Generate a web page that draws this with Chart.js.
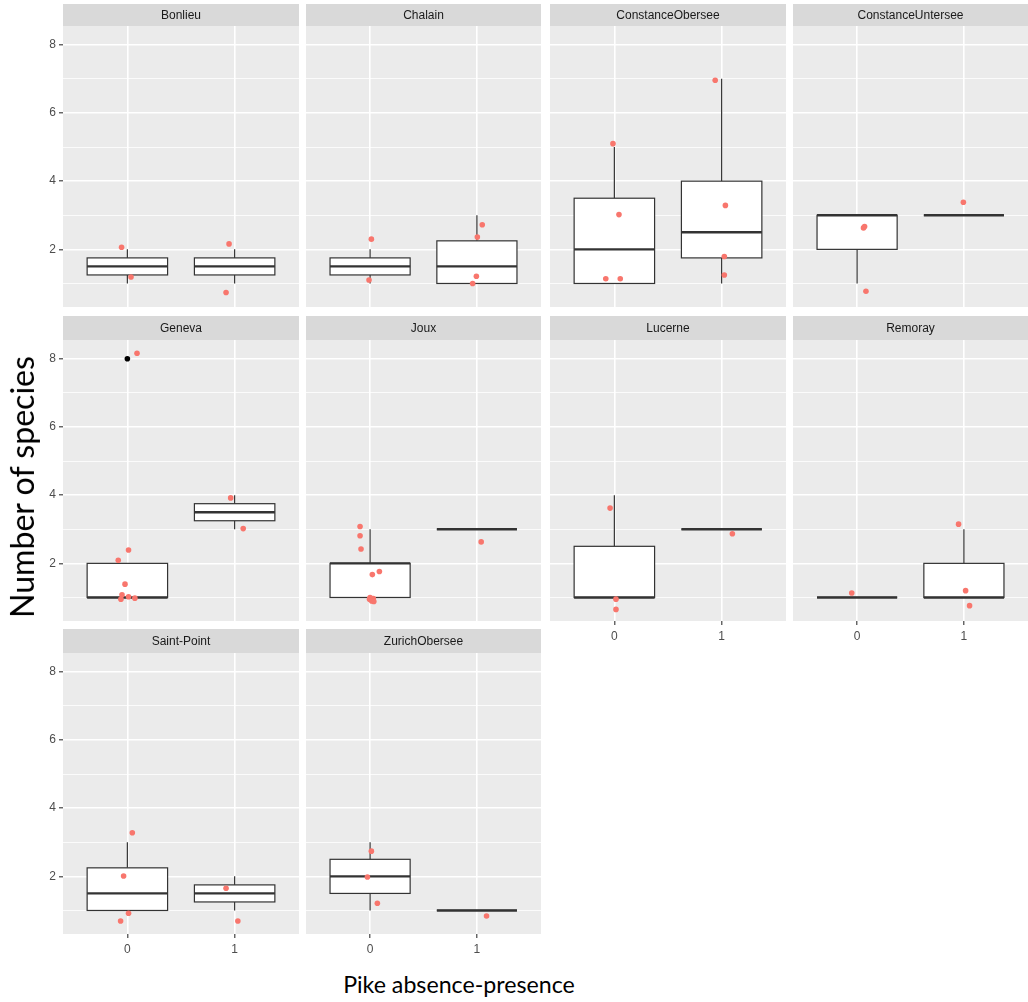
<!DOCTYPE html>
<html>
<head>
<meta charset="utf-8">
<script src="https://cdn.jsdelivr.net/npm/chart.js@4.4.1/dist/chart.umd.min.js"></script>
<style>
  html, body { margin: 0; padding: 0; background: #ffffff; }
  #fig { position: relative; width: 1028px; height: 1002px; overflow: hidden; background: #ffffff; }
  .panel { position: absolute; display: block; }
  .axis-title { position: absolute; font-family: Lato, "Open Sans", sans-serif; color: #000000;
                white-space: nowrap; line-height: 1; }
</style>
</head>
<body>
<div id="fig"></div>
<script>
// ---- data: species counts per lake, split by pike absence (0) / presence (1) ----
const lakes = ['Bonlieu', 'Chalain', 'ConstanceObersee', 'ConstanceUntersee', 'Geneva',
               'Joux', 'Lucerne', 'Remoray', 'Saint-Point', 'ZurichObersee'];
const pikeLevels = [0, 1];

// box statistics [lower whisker, Q1, median, Q3, upper whisker]
const boxAbsent = [
  [1, 1.25, 1.5, 1.75, 2], [1, 1.25, 1.5, 1.75, 2], [1, 1, 2, 3.5, 5], [1, 2, 3, 3, 3], [1, 1, 1, 2, 2],
  [1, 1, 2, 2, 3], [1, 1, 1, 2.5, 4], [1, 1, 1, 1, 1], [1, 1, 1.5, 2.25, 3], [1, 1.5, 2, 2.5, 3]
];
const boxPresent = [
  [1, 1.25, 1.5, 1.75, 2], [1, 1, 1.5, 2.25, 3], [1, 1.75, 2.5, 4, 7], [3, 3, 3, 3, 3], [3, 3.25, 3.5, 3.75, 4],
  [3, 3, 3, 3, 3], [3, 3, 3, 3, 3], [1, 1, 1, 2, 3], [1, 1.25, 1.5, 1.75, 2], [1, 1, 1, 1, 1]
];
// outlying values beyond the whiskers
const outlierAbsent = [[], [], [], [], [8], [], [], [], [], []];
const outlierPresent = [[], [], [], [], [], [], [], [], [], []];

// jittered observations: [horizontal jitter, jittered count]
const pointsAbsent = [
  [[-0.054, 2.06], [0.034, 1.19]],
  [[0.012, 2.30], [-0.01, 1.10]],
  [[-0.013, 5.10], [0.043, 3.02], [-0.08, 1.14], [0.055, 1.14]],
  [[0.06, 2.63], [0.07, 2.67], [0.083, 0.77]],
  [[0.09, 8.16], [0.011, 2.39], [-0.085, 2.09], [-0.022, 1.39], [-0.05, 1.08], [-0.06, 0.95], [0.011, 1.02], [0.07, 0.98]],
  [[-0.094, 3.08], [-0.094, 2.81], [-0.085, 2.42], [0.087, 1.76], [0.021, 1.67], [0.0, 1.0], [0.03, 0.97], [0.015, 0.90], [0.035, 0.88], [-0.005, 0.95]],
  [[-0.04, 3.62], [0.015, 0.95], [0.015, 0.65]],
  [[-0.05, 1.13]],
  [[0.046, 3.28], [-0.035, 2.01], [0.011, 0.92], [-0.063, 0.69]],
  [[0.012, 2.74], [-0.025, 1.98], [0.068, 1.21]]
];
const pointsPresent = [
  [[-0.052, 2.16], [-0.08, 0.735]],
  [[0.05, 2.72], [0.004, 2.36], [-0.005, 1.21], [-0.04, 1.0]],
  [[-0.06, 6.96], [0.035, 3.29], [0.025, 1.79], [0.025, 1.25]],
  [[-0.005, 3.38]],
  [[-0.037, 3.92], [0.08, 3.02]],
  [[0.04, 2.63]],
  [[0.10, 2.87]],
  [[-0.05, 3.15], [0.016, 1.20], [0.053, 0.76]],
  [[-0.08, 1.65], [0.03, 0.69]],
  [[0.09, 0.84]]
];

const yBreaks = [2, 4, 6, 8];
const yMinorBreaks = [1, 3, 5, 7];

// ---- facet layout ----
const NCOL = 4;
const colLeft = [63, 306, 550, 793];
const colWidth = [236, 235, 236, 235];
const rowPlotTop = [26, 340, 653];
const rowStrip = [22, 24, 24];
const plotH = 281;
const yAxisW = 63;
const xAxisH = 26;
const Y_MIN = 0.31, Y_MAX = 8.55;
const X_MIN = -0.6, X_MAX = 1.6;
const BOX_HALF = 0.375;
const LINE = '#333333';
const TICK_FONT = { family: '"Liberation Sans", Arial, sans-serif', size: 12 };

// axes never reserve extra room around the panel
function noScalePadding(s) {
  s.paddingTop = 0; s.paddingBottom = 0; s.paddingLeft = 0; s.paddingRight = 0;
}

function panelPlugin(label, boxes) {
  return {
    id: 'facet',
    beforeDraw(chart) {
      const { ctx, chartArea: a } = chart;
      ctx.save();
      ctx.fillStyle = '#EBEBEB';
      ctx.fillRect(a.left, a.top, a.right - a.left, a.bottom - a.top);
      ctx.fillStyle = '#D9D9D9';
      ctx.fillRect(a.left, 0, a.right - a.left, a.top);
      ctx.fillStyle = '#1A1A1A';
      ctx.font = '12px "Liberation Sans", Arial, sans-serif';
      ctx.textAlign = 'center';
      ctx.textBaseline = 'middle';
      ctx.fillText(label, (a.left + a.right) / 2, a.top / 2 + 0.5);
      ctx.restore();
    },
    beforeDatasetsDraw(chart) {
      const xs = chart.scales.x, ys = chart.scales.y, ctx = chart.ctx;
      ctx.save();
      ctx.strokeStyle = LINE;
      boxes.forEach(b => {
        const [mn, q1, md, q3, mx] = b.stats;
        const xl = xs.getPixelForValue(b.x - BOX_HALF);
        const xr = xs.getPixelForValue(b.x + BOX_HALF);
        const xc = xs.getPixelForValue(b.x);
        const py = v => ys.getPixelForValue(v);
        ctx.lineWidth = 1.2;
        ctx.beginPath();
        ctx.moveTo(xc, py(q3)); ctx.lineTo(xc, py(mx));
        ctx.moveTo(xc, py(q1)); ctx.lineTo(xc, py(mn));
        ctx.stroke();
        ctx.fillStyle = '#ffffff';
        ctx.fillRect(xl, py(q3), xr - xl, py(q1) - py(q3));
        ctx.strokeRect(xl, py(q3), xr - xl, py(q1) - py(q3));
        ctx.lineWidth = 2.4;
        ctx.beginPath();
        ctx.moveTo(xl, py(md)); ctx.lineTo(xr, py(md));
        ctx.stroke();
      });
      ctx.restore();
    }
  };
}

const fig = document.getElementById('fig');

lakes.forEach((lake, i) => {
  const row = Math.floor(i / NCOL), col = i % NCOL;
  const showY = col === 0;
  const showX = (i + NCOL >= lakes.length);
  const left = colLeft[col] - (showY ? yAxisW : 0);
  const top = rowPlotTop[row] - rowStrip[row];
  const w = colWidth[col] + (showY ? yAxisW : 0);
  const h = rowStrip[row] + plotH + (showX ? xAxisH : 0);

  const canvas = document.createElement('canvas');
  canvas.className = 'panel';
  canvas.width = w; canvas.height = h;
  canvas.style.left = left + 'px'; canvas.style.top = top + 'px';
  canvas.style.width = w + 'px'; canvas.style.height = h + 'px';
  fig.appendChild(canvas);

  const boxes = [
    { x: pikeLevels[0], stats: boxAbsent[i] },
    { x: pikeLevels[1], stats: boxPresent[i] }
  ];
  const jitter = pointsAbsent[i].map(([dx, y]) => ({ x: pikeLevels[0] + dx, y }))
    .concat(pointsPresent[i].map(([dx, y]) => ({ x: pikeLevels[1] + dx, y })));
  const outl = outlierAbsent[i].map(y => ({ x: pikeLevels[0], y }))
    .concat(outlierPresent[i].map(y => ({ x: pikeLevels[1], y })));

  new Chart(canvas, {
    type: 'scatter',
    data: {
      datasets: [
        { label: 'observations', data: jitter, backgroundColor: '#F8766D', borderWidth: 0,
          pointRadius: 2.8, pointHoverRadius: 2.8 },
        { label: 'outliers', data: outl, backgroundColor: '#000000', borderWidth: 0,
          pointRadius: 2.8, pointHoverRadius: 2.8 }
      ]
    },
    options: {
      responsive: false,
      animation: false,
      devicePixelRatio: 1,
      events: [],
      layout: { autoPadding: false, padding: { top: rowStrip[row], left: 0, right: 0, bottom: 0 } },
      plugins: { legend: { display: false }, tooltip: { enabled: false } },
      scales: {
        x: {
          type: 'linear', position: 'bottom', min: X_MIN, max: X_MAX,
          afterBuildTicks: s => { s.ticks = pikeLevels.map(v => ({ value: v })); },
          afterFit: s => { s.height = showX ? xAxisH : 0; noScalePadding(s); },
          border: { display: false },
          grid: { color: '#ffffff', lineWidth: 1.6, drawTicks: showX, tickLength: 4,
                  tickColor: LINE, tickWidth: 1.1 },
          ticks: { display: showX, color: '#4D4D4D', font: TICK_FONT, padding: 4,
                   maxRotation: 0, autoSkip: false, callback: v => String(v) }
        },
        y: {
          type: 'linear', position: 'left', min: Y_MIN, max: Y_MAX,
          afterBuildTicks: s => {
            s.ticks = yMinorBreaks.concat(yBreaks).sort((a, b) => a - b).map(v => ({ value: v }));
          },
          afterFit: s => { s.width = showY ? yAxisW : 0; noScalePadding(s); },
          border: { display: false },
          grid: {
            color: '#ffffff',
            lineWidth: c => (yBreaks.includes(c.tick.value) ? 1.6 : 0.8),
            drawTicks: showY, tickLength: 4, tickWidth: 1.1,
            tickColor: c => (yBreaks.includes(c.tick.value) ? LINE : 'rgba(0,0,0,0)')
          },
          ticks: { display: showY, color: '#4D4D4D', font: TICK_FONT, padding: 3, autoSkip: false,
                   callback: v => (yBreaks.includes(v) ? String(v) : '') }
        }
      }
    },
    plugins: [panelPlugin(lake, boxes)]
  });
});

// ---- axis titles ----
function addTitle(text, cx, cy, length, rotate) {
  const el = document.createElement('div');
  el.className = 'axis-title';
  el.textContent = text;
  el.style.fontSize = '30px';
  fig.appendChild(el);
  const size = 30 * length / el.offsetWidth;
  el.style.fontSize = size.toFixed(2) + 'px';
  el.style.left = cx + 'px';
  el.style.top = cy + 'px';
  el.style.transform = 'translate(-50%, -50%)' + (rotate ? ' rotate(-90deg)' : '');
}
addTitle('Number of species', 22, 487, 262, true);
addTitle('Pike absence-presence', 459, 985, 232, false);
</script>
</body>
</html>
